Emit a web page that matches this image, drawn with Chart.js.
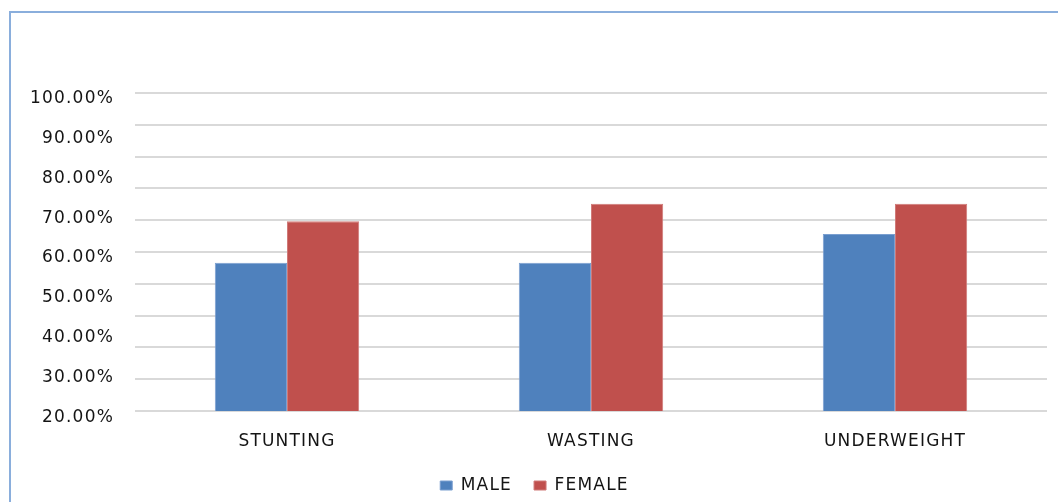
<!DOCTYPE html>
<html>
<head>
<meta charset="utf-8">
<script src="https://cdn.jsdelivr.net/npm/chart.js@4.4.1/dist/chart.umd.min.js"></script>
<style>
  html, body { margin: 0; padding: 0; background: #ffffff; }
  body { width: 1058px; height: 502px; position: relative; overflow: hidden; }
  #frame { position: absolute; left: 9px; top: 11px; width: 1100px; height: 560px;
           border-top: 2px solid #8aaedc; border-left: 2px solid #8aaedc; box-sizing: border-box; }
  canvas { position: absolute; left: 0; top: 0; }
</style>
</head>
<body>
<div id="frame"></div>
<canvas id="c" width="1058" height="502"></canvas>
<script>
// ---- data ----
const categories = ['STUNTING', 'WASTING', 'UNDERWEIGHT'];
const seriesNames = ['MALE', 'FEMALE'];
const maleValues = [58.8, 58.8, 66.0];
const femaleValues = [69.2, 73.6, 73.6];
const yTickValues = [20, 30, 40, 50, 60, 70, 80, 90, 100];

const FONT = { family: '"DejaVu Sans", sans-serif', size: 17 };
const TEXT = '#141414';

const spacingPlugin = {
  id: 'spacing',
  beforeLayout(chart) { chart.ctx.letterSpacing = '1.2px'; },
  beforeDraw(chart) { chart.ctx.letterSpacing = '1.2px'; }
};

new Chart(document.getElementById('c'), {
  type: 'bar',
  data: {
    labels: categories,
    datasets: [
      { label: seriesNames[0], data: maleValues, backgroundColor: '#4f81bd',
        borderColor: '#7a9fd0', borderWidth: 1, yAxisID: 'yl' },
      { label: seriesNames[1], data: femaleValues, backgroundColor: '#c0504d',
        borderColor: '#d07a78', borderWidth: 1, yAxisID: 'yl' }
    ]
  },
  options: {
    responsive: false,
    devicePixelRatio: 1,
    animation: false,
    layout: { padding: { left: 22, right: 11, top: 93, bottom: 7 } },
    datasets: { bar: { barPercentage: 1.0, categoryPercentage: 0.475 } },
    plugins: {
      legend: {
        position: 'bottom',
        maxHeight: 40,
        labels: { font: FONT, color: TEXT, boxWidth: 12, boxHeight: 9, padding: 22 }
      },
      tooltip: { enabled: false }
    },
    scales: {
      x: {
        grid: { display: false, drawTicks: false },
        border: { display: false },
        ticks: { font: FONT, color: TEXT, padding: 20, maxRotation: 0 },
        afterFit(s) { s.height = 44; }
      },
      yg: {
        position: 'left',
        min: 20, max: 100,
        grid: { color: '#d9d9d9', lineWidth: 2, drawTicks: false },
        border: { display: false },
        ticks: { display: false, stepSize: 8 },
        afterFit(s) { s.width = 0; }
      },
      yl: {
        position: 'left',
        min: 21.58, max: 101.43,
        grid: { display: false, drawTicks: false },
        border: { display: false },
        afterBuildTicks(s) { s.ticks = yTickValues.map(v => ({ value: v })); },
        ticks: { font: FONT, color: TEXT, padding: 21, autoSkip: false,
                 callback: v => v.toFixed(2) + '%' },
        afterFit(s) { s.width = 113; }
      }
    }
  },
  plugins: [spacingPlugin]
});
</script>
</body>
</html>
